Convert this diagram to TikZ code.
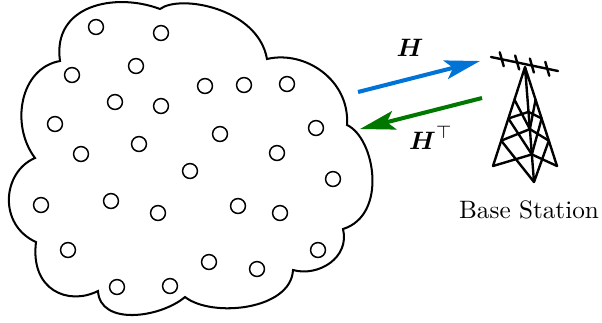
\documentclass[tikz,border=0pt]{standalone}
\usepackage{amsmath}
\usetikzlibrary{arrows.meta,calc}
\definecolor{uplink}{RGB}{0,115,215}
\definecolor{downlink}{RGB}{0,120,0}
\begin{document}
\begin{tikzpicture}[x=0.397pt,y=-0.397pt,
  user/.style={circle,draw,line width=0.6pt,minimum size=5.9pt,inner sep=0pt},
  cloudline/.style={line width=0.8pt,line join=miter},
  towerline/.style={line width=0.95pt,line cap=round,line join=round},
  link/.style={line width=1.6pt,-{Stealth[length=14pt,width=7.5pt,inset=3pt]}},
]
\useasboundingbox (0,0) rectangle (602,322);

% cloud outline: ten bumps meeting at inward cusps
\draw[cloudline]
  (60,61)  .. controls (52,5)    and (115,-8)  .. (160,9)
           .. controls (180,-6)  and (258,8)   .. (267,59)
           .. controls (305,50)  and (350,80)  .. (347,125)
           .. controls (375,138) and (388,215) .. (343,229)
           .. controls (350,258) and (318,277) .. (293,270)
           .. controls (291,310) and (212,318) .. (185,297)
           .. controls (160,318) and (100,326) .. (98,291)
           .. controls (68,306)  and (30,290)  .. (36,242)
           .. controls (-2,225)  and (2,172)   .. (35,158)
           .. controls (10,125)  and (20,68)   .. (60,61)
  -- cycle;

% users inside the cloud
\foreach \px/\py [count=\i] in {
  96/27, 161/33, 136/66, 72/75, 205/86, 244/85, 287/84, 115/102,
  161/106, 55/124, 316/128, 220/134, 139/144, 81/154, 277/153, 190/171,
  333/179, 41/205, 111/201, 158/213, 238/206, 280/213, 68/250, 318/250,
  209/262, 257/269, 117/287, 170/286}
  \node[user] (u\i) at (\px,\py) {};

% base station tower
\coordinate (apex) at (525,67);
\coordinate (legL) at (493,166);
\coordinate (legC) at (534,182);
\coordinate (legR) at (557,166);
\draw[towerline] (legL) -- (apex) -- (legR) (apex) -- (legC);
% left face bracing
\draw[towerline]
  ($(apex)!0.52!(legL)$) -- ($(apex)!0.39!(legC)$)
  ($(apex)!0.744!(legL)$) -- ($(apex)!0.54!(legC)$)
  (legL) -- ($(apex)!0.76!(legC)$)
  ($(apex)!0.33!(legL)$) -- ($(apex)!0.54!(legC)$)
  ($(apex)!0.52!(legL)$) -- ($(apex)!0.76!(legC)$)
  ($(apex)!0.744!(legL)$) -- (legC);
% right face bracing
\draw[towerline]
  ($(apex)!0.39!(legC)$) -- ($(apex)!0.52!(legR)$)
  ($(apex)!0.54!(legC)$) -- ($(apex)!0.744!(legR)$)
  ($(apex)!0.76!(legC)$) -- (legR)
  ($(apex)!0.33!(legR)$) -- ($(apex)!0.54!(legC)$)
  ($(apex)!0.52!(legR)$) -- ($(apex)!0.76!(legC)$)
  ($(apex)!0.744!(legR)$) -- (legC);
% antenna
\coordinate (antL) at (491,57);
\coordinate (antR) at (558,71);
\draw[towerline] (antL) -- (antR);
\foreach \t in {0.16,0.39,0.61,0.84}
  \draw[towerline] ($(antL)!\t!(antR)+(-2,-7)$) -- ($(antL)!\t!(antR)+(2,7)$);

\node (bs) at (529,210) {Base Station};

% uplink and downlink channels
\coordinate (upS) at (358,92);
\coordinate (upE) at (480,61);
\coordinate (dnS) at (482,98);
\coordinate (dnE) at (360,129);
\draw[link,uplink] (upS) -- (upE);
\draw[link,downlink] (dnS) -- (dnE);
\node (Hup) at (410,48) {$\boldsymbol{H}$};
\node (Hdn) at (431,138) {$\boldsymbol{H}^{\top}$};
\end{tikzpicture}
\end{document}
